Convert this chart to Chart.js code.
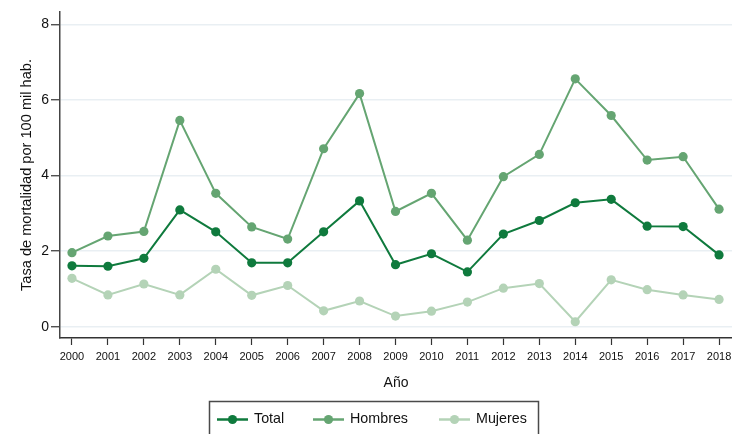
<!DOCTYPE html>
<html><head><meta charset="utf-8">
<script src="https://cdn.jsdelivr.net/npm/chart.js@4/dist/chart.umd.min.js"></script>
<style>html,body{margin:0;padding:0;background:#fff}#wrap{width:732px;height:434px;position:relative}</style>
</head><body><div id="wrap"><canvas id="c"></canvas></div>
<script>
const years=[2000,2001,2002,2003,2004,2005,2006,2007,2008,2009,2010,2011,2012,2013,2014,2015,2016,2017,2018];
const total=[1.61,1.60,1.81,3.09,2.51,1.69,1.69,2.51,3.33,1.64,1.93,1.45,2.45,2.81,3.28,3.37,2.66,2.65,1.90];
const hombres=[1.96,2.40,2.52,5.46,3.53,2.64,2.32,4.71,6.17,3.05,3.53,2.29,3.97,4.56,6.56,5.59,4.41,4.50,3.11];
const mujeres=[1.28,0.84,1.13,0.84,1.52,0.83,1.09,0.42,0.68,0.28,0.41,0.65,1.02,1.14,0.13,1.24,0.98,0.84,0.72];
const yTicks=[0,2,4,6,8];
const seriesNames=['Total','Hombres','Mujeres'];
const xTitle='Año';
const yTitle='Tasa de mortalidad por 100 mil hab.';

const colors=['#0f7a3d','#65a572','#b4d3b7'];
const FONT='"Liberation Sans", Arial, Helvetica, sans-serif';

function mk(name,vals,col){
  return {label:name,data:years.map((y,i)=>({x:y,y:vals[i]})),borderColor:col,backgroundColor:col,
    pointBackgroundColor:col,pointBorderColor:col,pointBorderWidth:0,pointRadius:4.6,borderWidth:2,tension:0};
}

const legendPlugin={
  id:'customLegend',
  afterDraw(chart){
    const ctx=chart.ctx;
    ctx.save();
    ctx.strokeStyle='#4a4a4a';ctx.lineWidth=1.5;
    ctx.strokeRect(209.5,401.5,329,40);
    const starts=[217,313,439];
    chart.data.datasets.forEach((ds,i)=>{
      const x0=starts[i],y0=419.5;
      ctx.strokeStyle=ds.borderColor;ctx.lineWidth=2.5;
      ctx.beginPath();ctx.moveTo(x0,y0);ctx.lineTo(x0+31,y0);ctx.stroke();
      ctx.fillStyle=ds.borderColor;ctx.beginPath();ctx.arc(x0+15.5,y0,4.6,0,Math.PI*2);ctx.fill();
      ctx.fillStyle='#111';ctx.font='14.3px '+FONT;ctx.textBaseline='middle';ctx.textAlign='left';
      ctx.fillText(ds.label,x0+37,y0);
    });
    ctx.restore();
  }
};

new Chart(document.getElementById('c'),{
  type:'line',
  data:{datasets:[mk(seriesNames[0],total,colors[0]),mk(seriesNames[1],hombres,colors[1]),mk(seriesNames[2],mujeres,colors[2])]},
  options:{
    responsive:true,maintainAspectRatio:false,animation:false,
    layout:{autoPadding:false,padding:{top:12,left:0,right:0,bottom:36}},
    plugins:{legend:{display:false},tooltip:{enabled:false}},
    scales:{
      x:{type:'linear',min:1999.667,max:2018.36,
        afterBuildTicks(s){s.ticks=years.map(v=>({value:v}));},
        afterFit(s){s.height=60;s.paddingRight=0;s.paddingLeft=0;},
        ticks:{autoSkip:false,maxRotation:0,padding:5,color:'#111',font:{size:11,family:FONT},callback:v=>String(v)},
        grid:{drawOnChartArea:false,drawTicks:true,tickLength:7,tickColor:'#333',tickWidth:1.2},
        border:{display:true,color:'#333',width:1.5},
        title:{display:true,text:xTitle,color:'#111',font:{size:14,family:FONT},padding:{top:4,bottom:6}}
      },
      y:{min:-0.3,max:8.33,
        afterBuildTicks(s){s.ticks=yTicks.map(v=>({value:v}));},
        afterFit(s){s.width=60;s.paddingTop=0;s.paddingBottom=0;},
        ticks:{padding:2,color:'#111',font:{size:14,family:FONT}},
        grid:{color:'#e9eff3',lineWidth:1.5,tickLength:9,tickColor:'#333',tickWidth:1.2},
        border:{display:true,color:'#444',width:1.5},
        title:{display:true,text:yTitle,color:'#111',font:{size:14.6,family:FONT},padding:{top:18.3,bottom:0}}
      }
    }
  },
  plugins:[legendPlugin]
});
</script></body></html>
